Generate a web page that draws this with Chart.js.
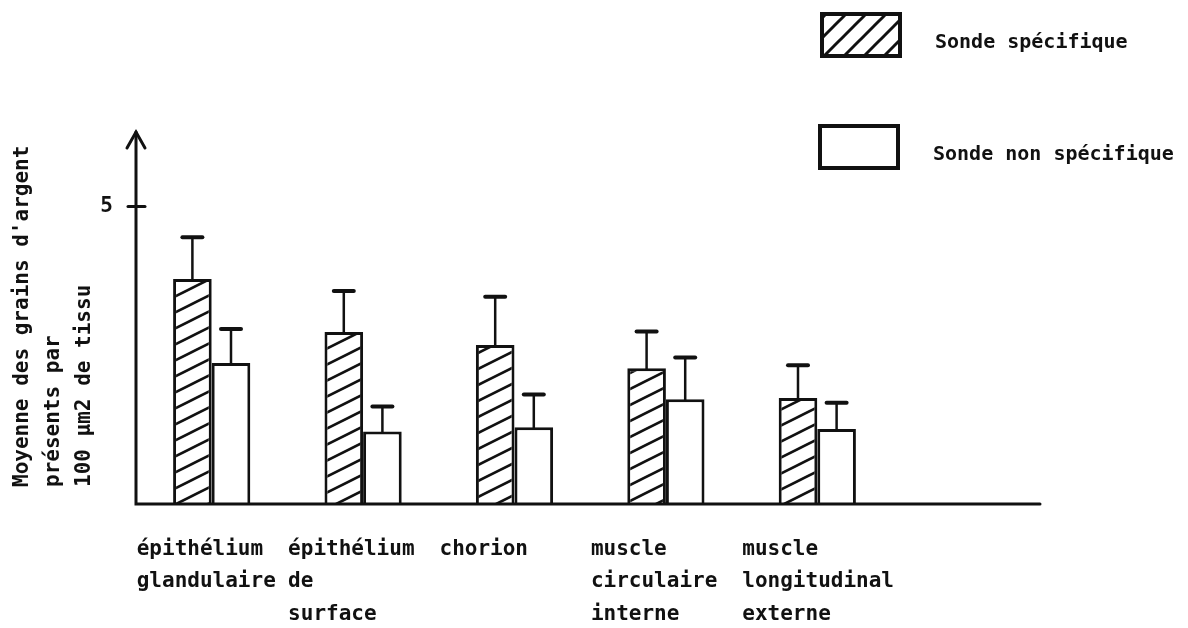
<!DOCTYPE html>
<html lang="fr">
<head>
    <meta charset="UTF-8">
    <title>Moyenne des grains d'argent</title>
    <script src="https://cdn.jsdelivr.net/npm/chart.js"></script>
    <style>
        body { margin: 0; background: #fff; }
        #wrap { width: 1188px; height: 628px; position: relative; }
    </style>
</head>
<body>
    <div id="wrap"><canvas id="chart"></canvas></div>

    <script>
        // categories (multi-line labels) and values
        const categories = [
            ['épithélium', 'glandulaire'],
            ['épithélium', 'de', 'surface'],
            ['chorion'],
            ['muscle', 'circulaire', 'interne'],
            ['muscle', 'longitudinal', 'externe']
        ];
        const specifique = [3.78, 2.89, 2.67, 2.28, 1.78];
        const specifiqueErr = [0.70, 0.69, 0.81, 0.62, 0.55];
        const nonSpecifique = [2.37, 1.22, 1.29, 1.76, 1.26];
        const nonSpecifiqueErr = [0.57, 0.42, 0.55, 0.70, 0.44];
        const yTicks = [5];
        const yTitle = ["Moyenne des grains d'argent", 'présents par', '100 µm2 de tissu'];

        const INK = '#111';
        const FONT = '"DejaVu Sans Mono", "Liberation Mono", monospace';

        Chart.defaults.font.family = FONT;
        Chart.defaults.font.size = 21;
        Chart.defaults.font.weight = 'bold';
        Chart.defaults.color = INK;

        // diagonal hatch pattern (lines rising to the right)
        function makeHatch(w, h, lw) {
            const c = document.createElement('canvas');
            c.width = w; c.height = h;
            const g = c.getContext('2d');
            g.fillStyle = '#fff';
            g.fillRect(0, 0, w, h);
            g.strokeStyle = INK;
            g.lineWidth = lw;
            for (let k = -1; k <= 1; k++) {
                g.beginPath();
                g.moveTo(-w, 2 * h + k * h);
                g.lineTo(2 * w, -h + k * h);
                g.stroke();
            }
            return g.createPattern(c, 'repeat');
        }
        const barHatch = makeHatch(32, 16, 2.6);
        const legendHatch = makeHatch(20, 20, 3);

        // axes with arrow, error bars, y title and legend boxes
        const drawExtras = {
            id: 'drawExtras',
            afterDatasetsDraw(chart) {
                const ctx = chart.ctx;
                const y = chart.scales.y;
                const area = chart.chartArea;
                ctx.save();
                ctx.strokeStyle = INK;
                ctx.lineCap = 'round';

                // error bars (upper side only)
                chart.data.datasets.forEach((ds, i) => {
                    const meta = chart.getDatasetMeta(i);
                    meta.data.forEach((bar, j) => {
                        const top = y.getPixelForValue(ds.data[j] + ds.errors[j]);
                        ctx.lineWidth = 2.5;
                        ctx.beginPath();
                        ctx.moveTo(bar.x, bar.y);
                        ctx.lineTo(bar.x, top);
                        ctx.stroke();
                        ctx.lineWidth = 4;
                        ctx.beginPath();
                        ctx.moveTo(bar.x - 10, top);
                        ctx.lineTo(bar.x + 10, top);
                        ctx.stroke();
                    });
                });

                // axes
                ctx.lineWidth = 3;
                ctx.beginPath();
                ctx.moveTo(area.left, area.top);
                ctx.lineTo(area.left, area.bottom);
                ctx.lineTo(1040, area.bottom);
                ctx.stroke();
                ctx.beginPath();
                ctx.moveTo(area.left - 9, area.top + 16);
                ctx.lineTo(area.left, area.top);
                ctx.lineTo(area.left + 9, area.top + 16);
                ctx.stroke();
                yTicks.forEach(v => {
                    const py = y.getPixelForValue(v);
                    ctx.beginPath();
                    ctx.moveTo(area.left - 8, py);
                    ctx.lineTo(area.left + 9, py);
                    ctx.stroke();
                });

                // y title, rotated, lines starting near the bottom
                ctx.fillStyle = INK;
                ctx.font = 'bold 21px ' + FONT;
                ctx.textAlign = 'left';
                ctx.textBaseline = 'middle';
                yTitle.forEach((line, k) => {
                    ctx.save();
                    ctx.translate(23 + k * 31, 487);
                    ctx.rotate(-Math.PI / 2);
                    ctx.fillText(line, 0, 0);
                    ctx.restore();
                });

                // legend
                ctx.font = 'bold 20px ' + FONT;
                const boxes = [[822, 14, 78, 42, 935, 43], [820, 126, 78, 42, 933, 155]];
                chart.data.datasets.forEach((ds, i) => {
                    const [bx, by, bw, bh, tx, ty] = boxes[i];
                    ctx.fillStyle = i === 0 ? legendHatch : '#fff';
                    ctx.fillRect(bx, by, bw, bh);
                    ctx.lineWidth = 4;
                    ctx.strokeRect(bx, by, bw, bh);
                    ctx.fillStyle = INK;
                    ctx.fillText(ds.label, tx, ty);
                });
                ctx.restore();
            }
        };

        new Chart(document.getElementById('chart'), {
            type: 'bar',
            data: {
                labels: categories,
                datasets: [
                    {
                        label: 'Sonde spécifique',
                        data: specifique,
                        errors: specifiqueErr,
                        backgroundColor: barHatch,
                        borderColor: INK,
                        borderWidth: 3
                    },
                    {
                        label: 'Sonde non spécifique',
                        data: nonSpecifique,
                        errors: nonSpecifiqueErr,
                        backgroundColor: '#fff',
                        borderColor: INK,
                        borderWidth: 3
                    }
                ]
            },
            options: {
                responsive: true,
                maintainAspectRatio: false,
                animation: false,
                layout: { padding: { top: 132, right: 295, bottom: 0, left: 0 } },
                datasets: { bar: { categoryPercentage: 0.51, barPercentage: 1 } },
                plugins: { legend: { display: false }, tooltip: { enabled: false } },
                scales: {
                    x: {
                        grid: { display: false, drawTicks: false },
                        border: { display: false },
                        afterFit: s => { s.height = 124; },
                        ticks: {
                            align: 'start',
                            labelOffset: -75,
                            padding: 29,
                            autoSkip: false,
                            maxRotation: 0,
                            minRotation: 0,
                            font: { lineHeight: 1.55 }
                        }
                    },
                    y: {
                        min: 0,
                        max: 6.25,
                        grid: { display: false, drawTicks: false },
                        border: { display: false },
                        afterFit: s => { s.width = 136; },
                        afterBuildTicks: s => { s.ticks = yTicks.map(v => ({ value: v })); },
                        ticks: { padding: 23 }
                    }
                }
            },
            plugins: [drawExtras]
        });
    </script>
</body>
</html>
